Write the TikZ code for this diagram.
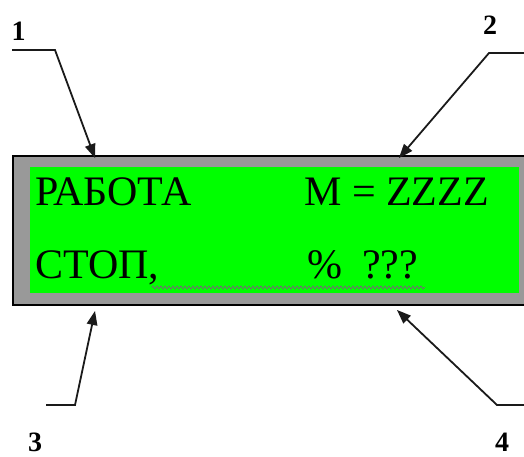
\documentclass[tikz,border=0pt]{standalone}
\usepackage{fontspec}
\setmainfont{Liberation Serif}
\usetikzlibrary{calc,decorations.pathmorphing}

\definecolor{panelgray}{HTML}{999999}
\definecolor{screengreen}{HTML}{00FF00}
\definecolor{squiggle}{HTML}{707070}
\definecolor{leadink}{HTML}{1A1A1A}

\tikzset{
  px/.style={x=1pt,y=-1pt},
  lcdtext/.style={font=\fontsize{42}{50}\selectfont, inner sep=0pt, anchor=base west},
  callout/.style={font=\fontsize{28}{33}\selectfont\bfseries, inner sep=0pt},
  leader/.style={line width=1.8pt, draw=leadink, line join=miter},
  tiphead/.style={fill=leadink},
}

% leader line from #1 via #2 to the tip #3, ending in a filled triangular head
\newcommand{\leaderline}[3]{%
  \coordinate (hb) at ($(#3)!14pt!(#2)$);
  \draw[leader] (#1) -- (#2) -- ($(#3)!10pt!(#2)$);
  \fill[tiphead] (#3) -- ($(hb)!5.5pt!90:(#3)$) -- ($(hb)!5.5pt!-90:(#3)$) -- cycle;
}

\begin{document}
\begin{tikzpicture}[px]
  \useasboundingbox (0,0) rectangle (524,456);
  \clip (0,0) rectangle (524,456);

  % display housing and its screen
  \node[draw=black, line width=2pt, fill=panelgray, inner sep=0pt,
        minimum width=520pt, minimum height=149pt, anchor=north west] (panel) at (12,155) {};
  \node[fill=screengreen, inner sep=0pt, minimum width=489pt, minimum height=126pt,
        anchor=north west] (screen) at (30,167) {};

  % screen lines
  \node[lcdtext] (work) at (35,205) {РАБОТА};
  \node[lcdtext] (speed) at (304,205) {M = ZZZZ};
  \node[lcdtext] (stop) at (35,278) {СТОП,};
  \node[lcdtext] (pct) at (307,278) {\%\hspace{20pt}???};

  % spell-check squiggle under the second line
  \draw[squiggle, line width=0.8pt, decorate,
        decoration={zigzag, segment length=4pt, amplitude=1.5pt}]
        (152,287.5) -- (425,287.5);

  % callout numbers
  \node[callout] (n1) at (18.5,31) {1};
  \node[callout] (n2) at (490,25) {2};
  \node[callout] (n3) at (35,442) {3};
  \node[callout] (n4) at (502,442) {4};

  % leader lines
  \coordinate (a1) at (12,50);   \coordinate (b1) at (55,50);   \coordinate (t1) at (95,158);
  \coordinate (a2) at (530,53);  \coordinate (b2) at (489,53);  \coordinate (t2) at (399,158);
  \coordinate (a3) at (46,405);  \coordinate (b3) at (75,405);  \coordinate (t3) at (95,311);
  \coordinate (a4) at (530,405); \coordinate (b4) at (497,405); \coordinate (t4) at (397,310);

  \leaderline{a1}{b1}{t1}
  \leaderline{a2}{b2}{t2}
  \leaderline{a3}{b3}{t3}
  \leaderline{a4}{b4}{t4}
\end{tikzpicture}
\end{document}
